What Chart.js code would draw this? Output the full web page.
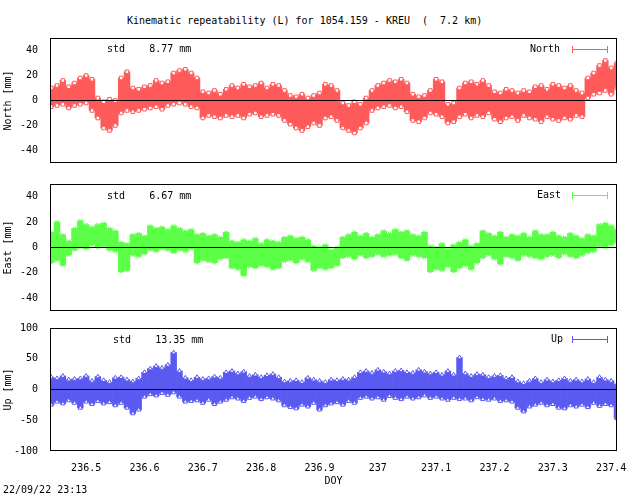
<!DOCTYPE html>
<html>
<head>
<meta charset="utf-8">
<script src="https://cdn.jsdelivr.net/npm/chart.js@4/dist/chart.umd.min.js"></script>
<style>
  body { margin: 0; background: #fff; width: 640px; height: 496px; position: relative; overflow: hidden; font-family: "DejaVu Sans Mono", monospace; font-size: 10px; }
  canvas { position: absolute; left: 0; z-index: 0; }
  .t { position: absolute; white-space: pre; color: #000; z-index: 2; }
  .leg { position: absolute; height: 1px; z-index: 2; }
  .cap { position: absolute; width: 1px; height: 7px; z-index: 2; }
</style>
</head>
<body>
<div class="t" style="left:127px;top:15px;">Kinematic repeatability (L) for 1054.159 - KREU  (  7.2 km)</div>
<canvas id="north" style="top:28px"></canvas>
<canvas id="east" style="top:174px"></canvas>
<canvas id="up" style="top:318px"></canvas>
<div class="t" style="left:107px;top:43px;">std    8.77 mm</div>
<div class="t" style="left:107px;top:190px;">std    6.67 mm</div>
<div class="t" style="left:113px;top:334px;">std    13.35 mm</div>
<div class="t" style="left:530px;top:43px;">North</div>
<div class="leg" style="left:572px;top:49px;width:36px;background:#ff5a5a"></div>
<div class="cap" style="left:572px;top:46px;background:#ff5a5a"></div>
<div class="cap" style="left:607px;top:46px;background:#ff5a5a"></div>
<div class="t" style="left:537px;top:189px;">East</div>
<div class="leg" style="left:572px;top:195px;width:36px;background:#5aff46"></div>
<div class="cap" style="left:572px;top:192px;background:#5aff46"></div>
<div class="cap" style="left:607px;top:192px;background:#5aff46"></div>
<div class="t" style="left:551px;top:333px;">Up</div>
<div class="leg" style="left:572px;top:339px;width:36px;background:#5a5af0"></div>
<div class="cap" style="left:572px;top:336px;background:#5a5af0"></div>
<div class="cap" style="left:607px;top:336px;background:#5a5af0"></div>
<div class="t" style="left:3px;top:484px;">22/09/22 23:13</div>
<script>
// day-of-year bin centres (0.01 day steps) and per-bin min/max
const dayStart = 236.44;
const binCount = 98;
const xTicks = [236.5, 236.6, 236.7, 236.8, 236.9, 237, 237.1, 237.2, 237.3, 237.4];

const northHi = [10,12,16,11,14,18,20,17,2,-1,1,0,18,23,10,9,11,12,16,14,15,22,24,25,22,18,7,6,8,5,9,12,10,13,11,12,14,10,13,12,8,4,3,5,2,4,6,13,12,8,-2,-4,-1,-3,2,8,12,14,16,15,17,14,5,3,4,8,17,15,-3,-2,10,14,15,13,16,12,7,6,9,8,6,8,7,11,12,9,13,12,10,12,8,6,18,22,28,32,26,30];
const northLo = [-5,-4,-3,-6,-4,-3,-2,-8,-14,-22,-24,-20,-10,-8,-9,-8,-7,-6,-5,-7,-4,-3,-2,-3,-5,-6,-14,-12,-13,-14,-12,-13,-12,-14,-11,-10,-13,-12,-11,-12,-16,-19,-22,-24,-21,-18,-20,-14,-13,-16,-22,-24,-26,-22,-18,-8,-6,-5,-4,-6,-5,-9,-16,-17,-14,-10,-11,-13,-18,-17,-13,-11,-14,-12,-13,-10,-15,-17,-14,-13,-16,-12,-14,-15,-17,-13,-15,-16,-14,-15,-12,-13,2,5,6,8,5,10];

const eastHi = [12,20,10,5,15,21,18,16,18,19,15,13,4,3,10,11,9,17,15,16,14,17,15,13,14,10,11,9,10,8,12,5,4,6,5,7,3,6,5,4,8,9,7,8,6,1,0,2,-2,0,8,10,12,9,11,8,10,13,11,14,12,13,10,9,12,1,0,3,-1,2,4,6,1,3,13,11,9,12,8,10,9,11,8,13,10,10,12,9,8,11,9,7,10,9,18,19,17,14];
const eastLo = [-12,-10,-14,-6,-2,0,-1,2,0,1,-2,-3,-19,-18,-6,-7,-5,-2,-3,-1,-2,-4,-2,-3,-1,-12,-10,-11,-12,-9,-8,-16,-17,-22,-15,-16,-14,-15,-17,-16,-11,-10,-12,-9,-11,-18,-16,-17,-16,-14,-8,-7,-9,-6,-8,-7,-5,-7,-6,-5,-8,-10,-6,-7,-8,-19,-17,-18,-15,-19,-16,-14,-17,-12,-8,-6,-9,-13,-7,-8,-10,-6,-7,-8,-9,-7,-6,-8,-5,-7,-8,-6,-4,-3,1,0,2,4];

const upHi = [20,18,22,16,17,18,22,14,21,15,12,19,20,16,13,18,28,34,38,35,40,60,30,19,15,20,17,18,21,19,28,30,26,29,22,24,20,23,25,20,13,14,15,12,19,16,14,12,16,15,17,16,20,28,30,27,32,29,26,30,31,28,27,32,29,26,28,24,30,24,52,26,22,25,24,20,22,23,18,20,13,10,14,18,12,16,13,15,18,14,16,13,17,12,20,16,14,8];
const upLo = [-25,-20,-23,-18,-22,-30,-20,-24,-19,-23,-21,-26,-22,-30,-39,-33,-12,-8,-10,-6,-9,-5,-12,-20,-19,-18,-22,-17,-24,-20,-17,-13,-15,-19,-14,-12,-16,-13,-15,-18,-26,-29,-31,-25,-28,-22,-33,-26,-23,-21,-25,-19,-22,-14,-12,-15,-13,-17,-11,-14,-16,-12,-15,-13,-10,-14,-12,-15,-17,-14,-16,-15,-18,-13,-16,-17,-15,-19,-18,-20,-30,-36,-28,-25,-22,-26,-24,-30,-31,-26,-28,-25,-29,-22,-27,-24,-26,-47];

const days = Array.from({length: binCount}, (_, i) => +(dayStart + i * 0.01).toFixed(2));
const xMin = 236.438, xMax = 237.41;
const FONT = { family: "DejaVu Sans Mono", size: 10 };

const framePlugin = {
    id: "frame",
    afterDatasetsDraw(chart) {
        const { ctx, chartArea: a } = chart;
        ctx.save();
        ctx.strokeStyle = "#000";
        ctx.lineWidth = 1;
        ctx.strokeRect(a.left + 0.5, a.top + 0.5, a.right - a.left - 1, a.bottom - a.top - 1);
        ctx.restore();
    },
};

function makeChart(id, height, lo, hi, color, marker, yMin, yMax, yTicks, title, showX) {
    const el = document.getElementById(id);
    el.width = 640;
    el.height = height;
    el.style.width = "640px";
    el.style.height = height + "px";
    new Chart(el, {
        data: {
            datasets: [
                {
                    type: "line",
                    data: [{ x: xMin, y: 0 }, { x: xMax, y: 0 }],
                    borderColor: "#000",
                    borderWidth: 1,
                    pointRadius: 0,
                    order: 0,
                },
                {
                    type: "scatter",
                    data: days.map((d, i) => ({ x: d, y: hi[i] })).concat(days.map((d, i) => ({ x: d, y: lo[i] }))),
                    pointStyle: marker,
                    pointRadius: 2.5,
                    borderColor: color,
                    backgroundColor: "#fff",
                    borderWidth: 1,
                    order: 1,
                },
                {
                    type: "bar",
                    data: days.map((d, i) => ({ x: d, y: [lo[i], hi[i]] })),
                    backgroundColor: color,
                    barPercentage: 1,
                    categoryPercentage: 1,
                    order: 2,
                },
            ],
        },
        options: {
            animation: false,
            responsive: false,
            layout: { padding: { right: 23, top: 0, bottom: 0 } },
            plugins: { legend: { display: false }, tooltip: { enabled: false } },
            scales: {
                x: {
                    type: "linear",
                    min: xMin,
                    max: xMax,
                    offset: false,
                    display: showX,
                    grid: { display: false },
                    border: { display: false },
                    afterBuildTicks: (s) => { s.ticks = xTicks.map((v) => ({ value: v })); },
                    afterFit: (s) => { s.height = showX ? 36 : 0; },
                    ticks: { font: FONT, color: "#000", maxRotation: 0, autoSkip: false, callback: (v) => String(Number(v.toFixed(1))) },
                    title: { display: true, text: "DOY", font: FONT, color: "#000", padding: 0 },
                },
                y: {
                    min: yMin,
                    max: yMax,
                    grid: { display: false },
                    border: { display: false },
                    afterBuildTicks: (s) => { s.ticks = yTicks.map((v) => ({ value: v })); },
                    afterFit: (s) => { s.width = 50; },
                    ticks: { font: FONT, color: "#000", padding: 4 },
                    title: { display: true, text: title, font: FONT, color: "#000", padding: 2 },
                },
            },
        },
        plugins: [framePlugin],
    });
}

makeChart("north", 145, northLo, northHi, "#ff5a5a", "rect", -50, 50, [-40, -20, 0, 20, 40], "North [mm]", false);
makeChart("east", 147, eastLo, eastHi, "#5aff46", "crossRot", -50, 50, [-40, -20, 0, 20, 40], "East [mm]", false);
makeChart("up", 169, upLo, upHi, "#5a5af0", "triangle", -100, 100, [-100, -50, 0, 50, 100], "Up [mm]", true);
</script>
</body>
</html>
